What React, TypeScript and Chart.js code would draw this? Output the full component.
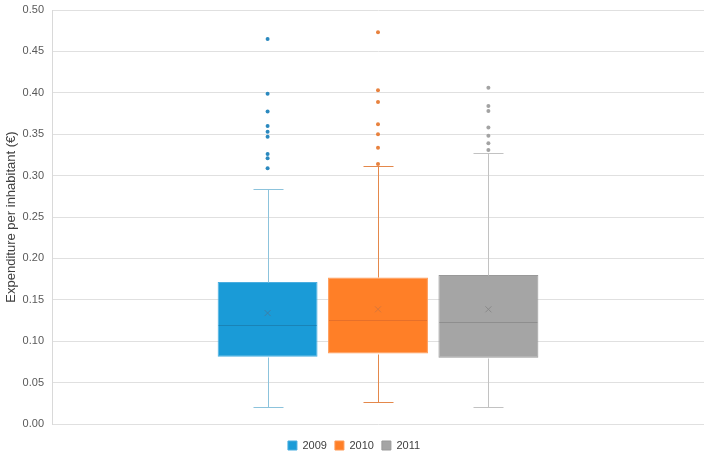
import React, { useEffect, useRef } from "react";
import { Chart, registerables } from "chart.js";

Chart.register(...registerables);

const years = ["2009", "2010", "2011"];
const q1 = [0.0813, 0.085, 0.08];
const q3 = [0.1715, 0.177, 0.18];
const medians = [0.12, 0.1255, 0.123];
const means = [0.134, 0.1385, 0.1385];
const whiskerLow = [0.0203, 0.0268, 0.02];
const whiskerHigh = [0.284, 0.312, 0.327];
const outliers2009 = [0.465, 0.399, 0.3775, 0.36, 0.353, 0.347, 0.326, 0.321, 0.309];
const outliers2010 = [0.473, 0.403, 0.389, 0.362, 0.35, 0.3335, 0.314];
const outliers2011 = [0.406, 0.384, 0.378, 0.358, 0.348, 0.339, 0.331];
const outliers = [outliers2009, outliers2010, outliers2011];

const fillColors = ["#1a9bd7", "#ff7f27", "#a5a5a5"];
const borderColors = ["#4aaee0", "#ff9a55", "#999999"];
const whiskerColors = ["#8cc3dc", "#e4884b", "#c2c2c2"];
const medianColors = ["#1a83b6", "#e6702a", "#8e8e8e"];
const meanColors = ["#3d7fa8", "#d9763a", "#8a8a8a"];
const outlierColors = ["#2b89bf", "#e8823f", "#a3a3a3"];

const boxPlotPlugin = {
  id: "boxPlotExtras",
  beforeDraw(chart: any) {
    const lg = chart.legend;
    if (lg) {
      const h = lg.bottom - lg.top;
      lg.top = 446 - 14;
      lg.bottom = lg.top + h;
    }
  },
  afterDatasetsDraw(chart: any) {
    const ctx = chart.ctx;
    const yScale = chart.scales.y;
    ctx.save();
    chart.data.datasets.forEach((_ds: any, i: number) => {
      const meta = chart.getDatasetMeta(i);
      const bar = meta.data[0];
      if (!bar) return;
      const x = Math.round(bar.x) + 0.5;
      const w = bar.width;
      const capHalf = 15;
      const py = (v: number) => Math.round(yScale.getPixelForValue(v)) + 0.5;

      ctx.strokeStyle = whiskerColors[i];
      ctx.lineWidth = 1;
      ctx.beginPath();
      ctx.moveTo(x, py(q3[i]));
      ctx.lineTo(x, py(whiskerHigh[i]));
      ctx.moveTo(x - capHalf, py(whiskerHigh[i]));
      ctx.lineTo(x + capHalf, py(whiskerHigh[i]));
      ctx.moveTo(x, py(q1[i]));
      ctx.lineTo(x, py(whiskerLow[i]));
      ctx.moveTo(x - capHalf, py(whiskerLow[i]));
      ctx.lineTo(x + capHalf, py(whiskerLow[i]));
      ctx.stroke();

      ctx.strokeStyle = medianColors[i];
      ctx.beginPath();
      ctx.moveTo(bar.x - w / 2 + 1, py(medians[i]));
      ctx.lineTo(bar.x + w / 2 - 1, py(medians[i]));
      ctx.stroke();

      const my = yScale.getPixelForValue(means[i]);
      const s = 3;
      ctx.strokeStyle = meanColors[i];
      ctx.beginPath();
      ctx.moveTo(bar.x - s, my - s);
      ctx.lineTo(bar.x + s, my + s);
      ctx.moveTo(bar.x + s, my - s);
      ctx.lineTo(bar.x - s, my + s);
      ctx.stroke();

      ctx.fillStyle = outlierColors[i];
      outliers[i].forEach((v) => {
        ctx.beginPath();
        ctx.arc(bar.x, yScale.getPixelForValue(v), 2, 0, Math.PI * 2);
        ctx.fill();
      });
    });
    ctx.restore();
  },
};

export default function App() {
  const canvasRef = useRef<HTMLCanvasElement | null>(null);

  useEffect(() => {
    if (!canvasRef.current) return;
    const chart = new Chart(canvasRef.current, {
      type: "bar",
      data: {
        labels: [""],
        datasets: years.map((yr, i) => ({
          label: yr,
          data: [[q1[i], q3[i]]] as any,
          backgroundColor: fillColors[i],
          borderColor: borderColors[i],
          borderWidth: 1,
          borderSkipped: false,
        })),
      },
      options: {
        animation: false,
        responsive: true,
        maintainAspectRatio: false,
        layout: { padding: { left: 4, right: 11, top: 10, bottom: 4 } },
        datasets: {
          bar: { categoryPercentage: 0.508, barPercentage: 0.905 },
        },
        scales: {
          x: { display: false },
          y: {
            min: 0,
            max: 0.5,
            afterFit: (scale: any) => {
              scale.width = 48;
              scale.paddingTop = 0;
              scale.paddingBottom = 0;
            },
            ticks: {
              stepSize: 0.05,
              padding: 8,
              color: "#595959",
              font: { family: "'Liberation Sans', Arial, sans-serif", size: 11 },
              callback: (v: any) => Number(v).toFixed(2),
            },
            grid: { color: "#e0e0e0", drawTicks: false },
            border: { color: "#d9d9d9" },
            title: {
              display: true,
              text: "Expenditure per inhabitant (€)",
              color: "#404040",
              font: { family: "'Liberation Sans', Arial, sans-serif", size: 13 },
              padding: { top: 0, bottom: 0 },
            },
          },
        },
        plugins: {
          legend: {
            position: "bottom",
            labels: {
              boxWidth: 9,
              boxHeight: 9,
              padding: 8,
              color: "#404040",
              font: { family: "'Liberation Sans', Arial, sans-serif", size: 11 },
            },
          },
          tooltip: { enabled: false },
        },
      },
      plugins: [boxPlotPlugin],
    });
    return () => chart.destroy();
  }, []);

  return (
    <div style={{ position: "fixed", left: 0, top: 0, width: 715, height: 457, background: "#fff" }}>
      <canvas ref={canvasRef} />
    </div>
  );
}
